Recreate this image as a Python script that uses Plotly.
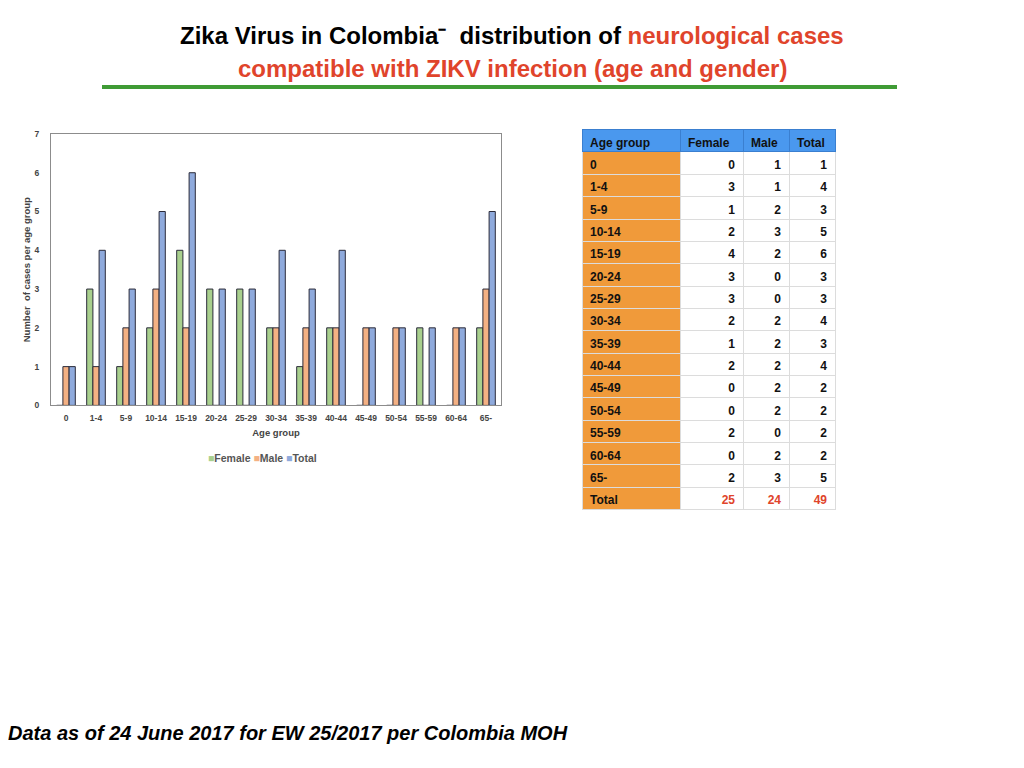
import plotly.graph_objects as go

age_groups = ["0", "1-4", "5-9", "10-14", "15-19", "20-24", "25-29", "30-34",
              "35-39", "40-44", "45-49", "50-54", "55-59", "60-64", "65-"]
female = [0, 3, 1, 2, 4, 3, 3, 2, 1, 2, 0, 0, 2, 0, 2]
male = [1, 1, 2, 3, 2, 0, 0, 2, 2, 2, 2, 2, 0, 2, 3]
total = [1, 4, 3, 5, 6, 3, 3, 4, 3, 4, 2, 2, 2, 2, 5]
totals_row = [25, 24, 49]
y_ticks = [0, 1, 2, 3, 4, 5, 6, 7]

W, H = 1024, 768
# empirical mapping between figure coords and the photographed page
XO = -8
YA, YB = 10.8, 0.989
def px(x):
    return (x + XO) / W
def py(y):
    return 1 - ((y - YA) / YB) / H

FONT = "Liberation Sans, Arial, sans-serif"
GREEN = "#a9d08e"
ORANGE = "#f4b183"
BLUE = "#8faadc"
EDGE = "#2b2b3a"
series = [("Female", female, GREEN), ("Male", male, ORANGE), ("Total", total, BLUE)]

fig = go.Figure()
for name, vals, col in series:
    fig.add_trace(go.Bar(
        x=age_groups, y=vals, name=name,
        marker=dict(color=col, line=dict(color=EDGE, width=1)),
        xaxis="x", yaxis="y", showlegend=False,
    ))

# table
hdr_fill = "#4a98ee"
age_fill = "#f09a3a"
col_age = age_groups + ["Total"]
col_f = [str(v) for v in female] + [str(totals_row[0])]
col_m = [str(v) for v in male] + [str(totals_row[1])]
col_t = [str(v) for v in total] + [str(totals_row[2])]
n = len(col_age)
font_colors_num = ["#111111"] * (n - 1) + ["#e0442b"]
fig.add_trace(go.Table(
    domain=dict(x=[px(582), px(835)], y=[py(535), py(128)]),
    columnwidth=[98, 63, 46, 46],
    header=dict(
        values=["Age group", "Female", "Male", "Total"],
        fill_color=hdr_fill,
        line=dict(color="#3a7fd0", width=1),
        align="left",
        font=dict(family=FONT, size=12, color="#111111", weight="bold"),
        height=22,
    ),
    cells=dict(
        values=[col_age, col_f, col_m, col_t],
        fill_color=[[age_fill] * n, ["white"] * n, ["white"] * n, ["white"] * n],
        line=dict(color="#dcdcdc", width=1),
        align=["left", "right", "right", "right"],
        font=dict(family=FONT, size=12,
                  color=[["#111111"] * n, font_colors_num, font_colors_num, font_colors_num],
                  weight="bold"),
        height=22.35,
    ),
))

tickfont = dict(family=FONT, size=8.5, color="#444444", weight="bold")
legend_text = " ".join(
    f"<span style='color:{c}'>■</span>{nm}" for nm, _, c in series)
fig.update_layout(
    width=W, height=H,
    margin=dict(l=0, r=0, t=0, b=0),
    paper_bgcolor="white", plot_bgcolor="white",
    barmode="group", bargap=0.38, bargroupgap=0,
    showlegend=False,
    xaxis=dict(
        domain=[px(51), px(501)], anchor="y",
        showline=True, mirror=True, linecolor="#8c8c8c", linewidth=1,
        ticks="outside", ticklen=4, tickcolor="rgba(0,0,0,0)",
        tickfont=tickfont, showgrid=False,
        title=dict(text="Age group", font=dict(family=FONT, size=9.5, color="#444444", weight="bold"), standoff=7),
    ),
    yaxis=dict(
        domain=[py(404), py(132)], anchor="x",
        range=[0, 7], tickvals=y_ticks,
        showline=True, mirror=True, linecolor="#8c8c8c", linewidth=1,
        showgrid=False, zeroline=False,
        ticks="outside", ticklen=9, tickcolor="rgba(0,0,0,0)", tickfont=tickfont,
        title=dict(text="Number  of cases per age group", font=dict(family=FONT, size=9.5, color="#444444", weight="bold"), standoff=2),
    ),
    shapes=[dict(type="line", xref="paper", yref="paper",
                 x0=px(102), x1=px(897), y0=py(85), y1=py(85),
                 line=dict(color="#3f9b35", width=4))],
    annotations=[
        dict(text="<b>Zika Virus in Colombia⁻  distribution of <span style='color:#e0442b'>neurological cases</span></b>",
             x=px(512), y=py(33), xref="paper", yref="paper", xanchor="center", yanchor="middle",
             showarrow=False, font=dict(family=FONT, size=24, color="black")),
        dict(text="<b>compatible with ZIKV infection (age and gender)</b>",
             x=px(512), y=py(66), xref="paper", yref="paper", xanchor="center", yanchor="middle",
             showarrow=False, font=dict(family=FONT, size=24, color="#e0442b")),
        dict(text="<b><i>Data as of 24 June 2017 for EW 25/2017 per Colombia MOH</i></b>",
             x=px(6), y=py(732), xref="paper", yref="paper", xanchor="left", yanchor="middle",
             showarrow=False, font=dict(family=FONT, size=20, color="black")),
        dict(text=legend_text,
             x=px(262), y=py(457), xref="paper", yref="paper", xanchor="center", yanchor="middle",
             showarrow=False, font=dict(family=FONT, size=10.5, color="#555555", weight="bold")),
    ],
)

fig.write_html("out.html")
